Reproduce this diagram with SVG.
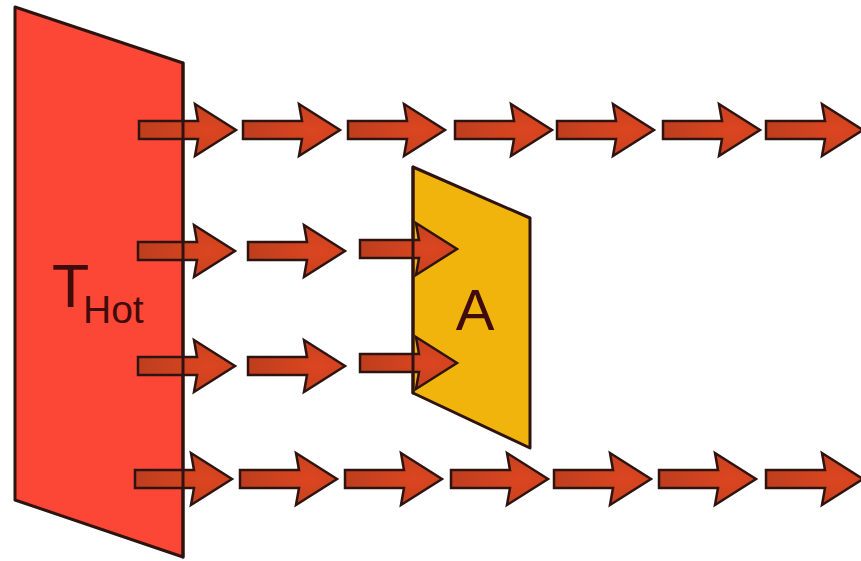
<svg xmlns="http://www.w3.org/2000/svg" xmlns:xlink="http://www.w3.org/1999/xlink" width="861" height="561" viewBox="0 0 861 561">
  <style>
    .edge { stroke: #2e1410; stroke-width: 3; stroke-linejoin: round; stroke-linecap: round; fill: none; }
    .lbl { font-family: "Liberation Sans", Arial, sans-serif; fill: #400b0b; }
    .arrow { stroke: #2e1410; stroke-width: 2.5; stroke-linejoin: miter; fill: url(#arrowFill); }
  </style>
  <defs>
    <radialGradient id="arrowFill" cx="0.72" cy="0.5" r="0.7">
      <stop offset="0" stop-color="#dc4620"/>
      <stop offset="1" stop-color="#bf3e1e"/>
    </radialGradient>
    <path id="arr" class="arrow" d="M -97,-9 L -38,-9 L -41,-26 L 0,0 L -41,26 L -38,9 L -97,9 Z"/>
  </defs>
  <rect width="861" height="561" fill="#ffffff"/>

  <g id="hot-panel">
    <polygon points="15,7 183,63 183,557 15,500" class="edge" style="fill:#fd4736"/>
    <text class="lbl" x="52" y="307" font-size="61">T</text>
    <text class="lbl" x="83" y="323" font-size="39">Hot</text>
  </g>

  <g id="panel-a">
    <polygon points="413,167 530,218 530,448 413,393" class="edge" style="fill:#f1b40c"/>
    <text class="lbl" x="475" y="330" font-size="58" text-anchor="middle">A</text>
  </g>

  <g id="connectors">
    <use xlink:href="#arr" href="#arr" x="236" y="130"/>
    <use xlink:href="#arr" href="#arr" x="340" y="130"/>
    <use xlink:href="#arr" href="#arr" x="445" y="130"/>
    <use xlink:href="#arr" href="#arr" x="552" y="130"/>
    <use xlink:href="#arr" href="#arr" x="654" y="130"/>
    <use xlink:href="#arr" href="#arr" x="760" y="130"/>
    <use xlink:href="#arr" href="#arr" x="863" y="130"/>

    <use xlink:href="#arr" href="#arr" x="235" y="251"/>
    <use xlink:href="#arr" href="#arr" x="345" y="251"/>
    <use xlink:href="#arr" href="#arr" x="457" y="249"/>

    <use xlink:href="#arr" href="#arr" x="235" y="366"/>
    <use xlink:href="#arr" href="#arr" x="345" y="366"/>
    <use xlink:href="#arr" href="#arr" x="457" y="363"/>

    <use xlink:href="#arr" href="#arr" x="232" y="479"/>
    <use xlink:href="#arr" href="#arr" x="337" y="479"/>
    <use xlink:href="#arr" href="#arr" x="442" y="479"/>
    <use xlink:href="#arr" href="#arr" x="548" y="479"/>
    <use xlink:href="#arr" href="#arr" x="651" y="479"/>
    <use xlink:href="#arr" href="#arr" x="756" y="479"/>
    <use xlink:href="#arr" href="#arr" x="863" y="479"/>
  </g>

  <g id="panel-edges">
    <line class="edge" x1="183" y1="63" x2="183" y2="557"/>
    <line class="edge" x1="413" y1="167" x2="413" y2="393"/>
  </g>
</svg>
